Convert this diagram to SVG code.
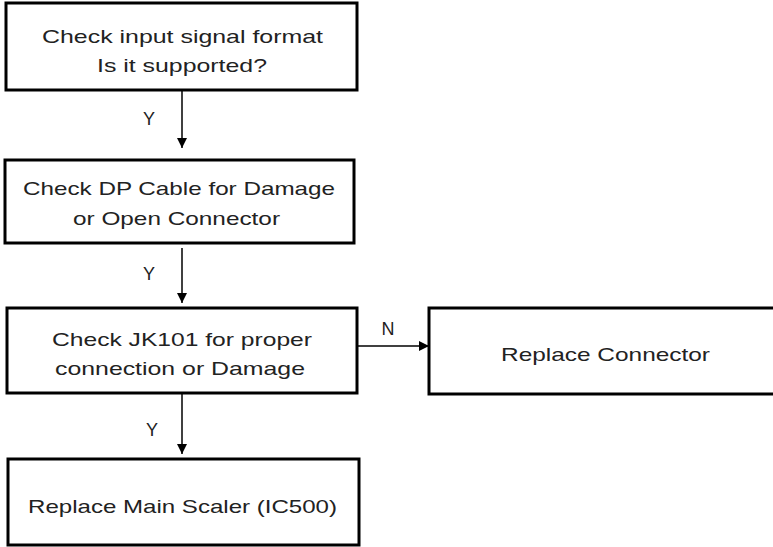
<svg xmlns="http://www.w3.org/2000/svg" width="773" height="547" viewBox="0 0 773 547">
<style>
.box{fill:#fff;stroke:#000;stroke-width:3}
.t{font-family:"Liberation Sans",Arial,sans-serif;font-size:19px;fill:#222;text-anchor:middle}
.l{font-family:"Liberation Sans",Arial,sans-serif;font-size:18px;fill:#222;text-anchor:middle}
.c{stroke:#000;stroke-width:1.5;fill:none;marker-end:url(#ah)}
</style>
<defs>
<marker id="ah" viewBox="0 0 10 10" refX="10" refY="5" markerWidth="10" markerHeight="10" markerUnits="userSpaceOnUse" orient="auto">
<path d="M0,0 L10,5 L0,10 Z" fill="#000"/>
</marker>
</defs>
<rect width="773" height="547" fill="#fff"/>
<g id="connectors">
<line class="c" x1="182" y1="91" x2="182" y2="148"/>
<text class="l" x="149" y="125">Y</text>
<line class="c" x1="182" y1="248" x2="182" y2="303"/>
<text class="l" x="149" y="280">Y</text>
<line class="c" x1="182" y1="394" x2="182" y2="454"/>
<text class="l" x="152" y="436">Y</text>
<line class="c" x1="357" y1="346" x2="429" y2="346"/>
<text class="l" x="388" y="335">N</text>
</g>
<g id="n1">
<rect class="box" x="6" y="3" width="351" height="87"/>
<text class="t" x="182.5" y="43" textLength="281" lengthAdjust="spacingAndGlyphs">Check input signal format</text>
<text class="t" x="182" y="72" textLength="170" lengthAdjust="spacingAndGlyphs">Is it supported?</text>
</g>
<g id="n2">
<rect class="box" x="5" y="160" width="349" height="83"/>
<text class="t" x="179" y="195" textLength="312" lengthAdjust="spacingAndGlyphs">Check DP Cable for Damage</text>
<text class="t" x="176.5" y="225" textLength="207" lengthAdjust="spacingAndGlyphs">or Open Connector</text>
</g>
<g id="n3">
<rect class="box" x="7" y="308" width="350" height="85"/>
<text class="t" x="182" y="346" textLength="260" lengthAdjust="spacingAndGlyphs">Check JK101 for proper</text>
<text class="t" x="180" y="375" textLength="250" lengthAdjust="spacingAndGlyphs">connection or Damage</text>
</g>
<g id="n4">
<rect class="box" x="8" y="459" width="351" height="86"/>
<text class="t" x="182.5" y="513" textLength="309" lengthAdjust="spacingAndGlyphs">Replace Main Scaler (IC500)</text>
</g>
<g id="n5">
<rect class="box" x="429" y="308" width="360" height="86"/>
<text class="t" x="605.5" y="361" textLength="209" lengthAdjust="spacingAndGlyphs">Replace Connector</text>
</g>
</svg>
